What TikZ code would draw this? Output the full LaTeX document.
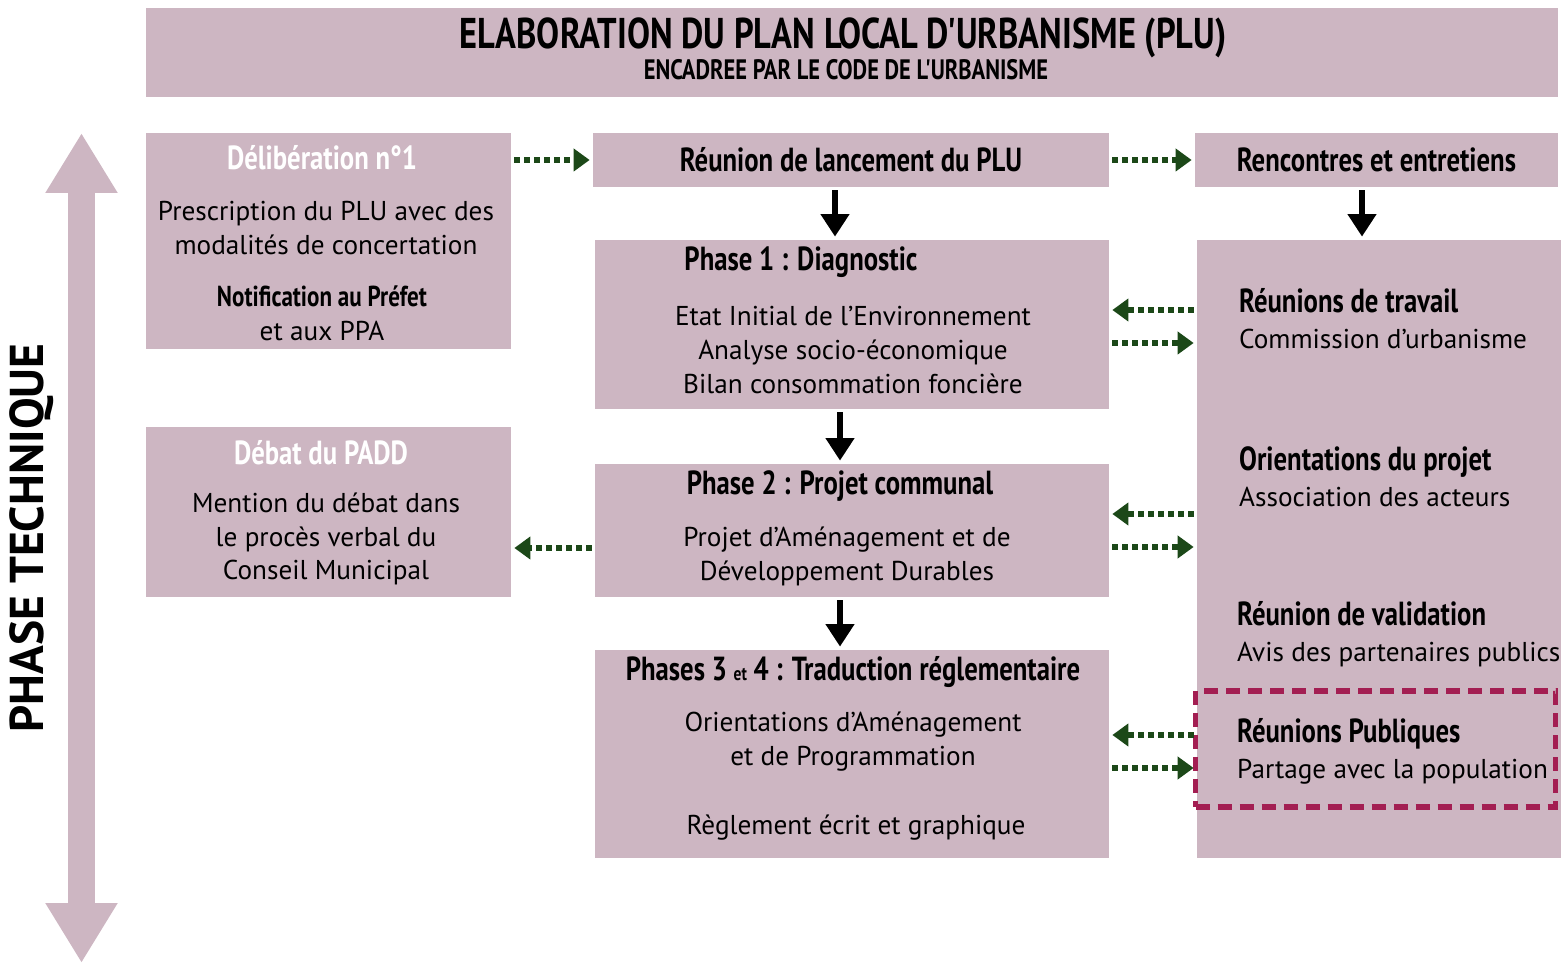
\documentclass[tikz,border=0pt]{standalone}
\usepackage{fontspec}
\setmainfont{PT Sans}
\newfontfamily\condfont{PT Sans Bold}[FakeStretch=0.8]
\newfontfamily\boldfont{PT Sans Bold}
\usepackage{xcolor}
\usetikzlibrary{arrows.meta,positioning,calc}
\definecolor{mauve}{RGB}{205,182,194}
\definecolor{dotgreen}{RGB}{28,72,24}
\definecolor{crimson}{RGB}{163,30,82}

\begin{document}
\begin{tikzpicture}[
  box/.style={rectangle,fill=mauve,inner sep=0pt},
  ttl/.style={font=\condfont\fontsize{19}{22}\selectfont},
  body/.style={align=center,font=\fontsize{15.5}{19.3}\selectfont},
  side/.style={anchor=west,align=left,font=\fontsize{15.5}{20.5}\selectfont},
  dotarrow/.style={dotgreen,line width=0.12cm,dash pattern=on 0.12cm off 0.08cm,-{Triangle[width=0.44cm,length=0.32cm]},shorten >=0.06cm,shorten <=0.06cm},
  downarrow/.style={black,line width=0.12cm,-{Triangle[width=0.55cm,length=0.45cm]},shorten >=0.06cm,shorten <=0.06cm}
]
\useasboundingbox (0,0) rectangle (31.22,-19.32);

% Header
\node[box,minimum width=28.24cm,minimum height=1.78cm] (head) at (17.04,-1.05) {};
\node[font=\condfont\fontsize{24.5}{28}\selectfont] (htitle) at (16.86,-0.76) {ELABORATION DU PLAN LOCAL D'URBANISME (PLU)};
\node[font=\condfont\fontsize{16}{18}\selectfont] (hsub) at (16.92,-1.40) {ENCADREE PAR LE CODE DE L'URBANISME};

% Phase technique arrow
\coordinate (ptop) at (1.63,-2.66);
\coordinate (pbot) at (1.63,-19.26);
\draw[mauve,line width=0.54cm,{Triangle[width=1.36cm,length=1.2cm]}-{Triangle[width=1.36cm,length=1.2cm]}] (ptop) -- (pbot);
\node[rotate=90,font=\boldfont\fontsize{27}{30}\selectfont] (phase) at (0.64,-10.76) {PHASE TECHNIQUE};

% Left column
\node[box,minimum width=7.30cm,minimum height=4.32cm] (delib) at (6.57,-4.82) {};
\node[ttl,white] (delibt) at (6.44,-3.16) {Délibération n°1};
\node[body] (delibb) at (6.52,-4.56) {Prescription du PLU avec des\\modalités de concertation};
\node[body] (notif) at (6.44,-6.26) {{\condfont\fontsize{16.4}{19.3}\selectfont Notification au Préfet}\\et aux PPA};

\node[box,minimum width=7.30cm,minimum height=3.40cm] (debat) at (6.57,-10.24) {};
\node[ttl,white] (debatt) at (6.42,-9.06) {Débat du PADD};
\node[body] (debatb) at (6.52,-10.78) {Mention du débat dans\\le procès verbal du\\Conseil Municipal};

% Middle column
\node[box,minimum width=10.32cm,minimum height=1.08cm,ttl] (reunion) at (17.02,-3.20) {Réunion de lancement du PLU};

\node[box,minimum width=10.28cm,minimum height=3.38cm] (phase1) at (17.04,-6.49) {};
\node[ttl] (p1t) at (16.02,-5.24) {Phase 1 : Diagnostic};
\node[body] (p1b) at (17.06,-7.00) {Etat Initial de l'Environnement\\Analyse socio-économique\\Bilan consommation foncière};

\node[box,minimum width=10.28cm,minimum height=2.66cm] (phase2) at (17.04,-10.61) {};
\node[ttl] (p2t) at (16.80,-9.72) {Phase 2 : Projet communal};
\node[body] (p2b) at (16.94,-11.12) {Projet d'Aménagement et de\\Développement Durables};

\node[box,minimum width=10.28cm,minimum height=4.16cm] (phase3) at (17.04,-15.08) {};
\node[ttl] (p3t) at (17.06,-13.44) {Phases 3 {\fontsize{11}{13}\selectfont et} 4 : Traduction réglementaire};
\node[body] (p3b) at (17.06,-14.84) {Orientations d'Aménagement\\et de Programmation};
\node[body] (p3r) at (17.12,-16.56) {Règlement écrit et graphique};

% Right column
\node[box,minimum width=7.26cm,minimum height=1.08cm,ttl] (rencontre) at (27.53,-3.20) {Rencontres et entretiens};
\node[box,minimum width=7.28cm,minimum height=12.36cm] (rbox) at (27.58,-10.98) {};
\node[draw=crimson,line width=0.11cm,dash pattern=on 0.28cm off 0.16cm,minimum width=7.20cm,minimum height=2.32cm] (pubbox) at (27.51,-14.98) {};
\node[side] (travail) at (24.66,-6.38) {{\condfont\fontsize{19}{20.5}\selectfont Réunions de travail}\\Commission d'urbanisme};
\node[side] (orient) at (24.66,-9.53) {{\condfont\fontsize{19}{20.5}\selectfont Orientations du projet}\\Association des acteurs};
\node[side] (valid) at (24.62,-12.68) {{\condfont\fontsize{19}{20.5}\selectfont Réunion de validation}\\Avis des partenaires publics};
\node[side] (pub) at (24.62,-15.02) {{\condfont\fontsize{19}{20.5}\selectfont Réunions Publiques}\\Partage avec la population};

% Black arrows
\draw[downarrow] (reunion.south -| 16.70,0) -- (phase1.north -| 16.70,0);
\draw[downarrow] (phase1.south -| 16.80,0) -- (phase2.north -| 16.80,0);
\draw[downarrow] (phase2.south -| 16.80,0) -- (phase3.north -| 16.80,0);
\draw[downarrow] (rencontre.south -| 27.24,0) -- (rbox.north -| 27.24,0);

% Dotted arrows
\draw[dotarrow] (reunion.west -| delib.east) -- (reunion.west);
\draw[dotarrow] (reunion.east) -- (rencontre.west);
\draw[dotarrow] ([yshift=0.29cm]phase1.east -| rbox.west) -- ([yshift=0.29cm]phase1.east);
\draw[dotarrow] ([yshift=-0.37cm]phase1.east) -- ([yshift=-0.37cm]phase1.east -| rbox.west);
\draw[dotarrow] ([yshift=0.33cm]phase2.east -| rbox.west) -- ([yshift=0.33cm]phase2.east);
\draw[dotarrow] ([yshift=-0.33cm]phase2.east) -- ([yshift=-0.33cm]phase2.east -| rbox.west);
\draw[dotarrow] ([yshift=-0.35cm]phase2.west) -- ([yshift=-0.35cm]phase2.west -| debat.east);
\draw[dotarrow] ([yshift=0.38cm]phase3.east -| rbox.west) -- ([yshift=0.38cm]phase3.east);
\draw[dotarrow] ([yshift=-0.28cm]phase3.east) -- ([yshift=-0.28cm]phase3.east -| rbox.west);

\end{tikzpicture}
\end{document}
